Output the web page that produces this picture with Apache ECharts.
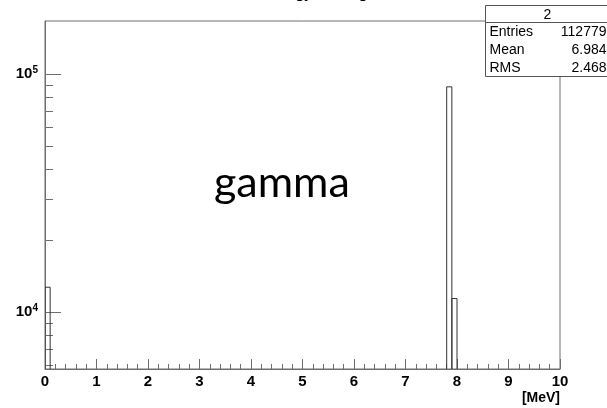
<!DOCTYPE html>
<html>
<head>
<meta charset="utf-8">
<script src="https://cdn.jsdelivr.net/npm/echarts@6/dist/echarts.min.js"></script>
<style>
  html, body { margin: 0; padding: 0; background: #fff; }
  #chart { width: 607px; height: 408px; }
</style>
</head>
<body>
<div id="chart"></div>
<script>
// Histogram "2": photon energy deposit, 0.1 MeV bins; only bins above the
// display floor are listed, all others are empty.
const binWidth = 0.1;
const binStart = [0.0, 7.8, 7.9];
const binCount = [12750, 88600, 11429];

// Statistics box
const statTitle = '2';
const statNames = ['Entries', 'Mean', 'RMS'];
const statValues = ['112779', '6.984', '2.468'];

// Axis settings
const xTickValues = [0, 1, 2, 3, 4, 5, 6, 7, 8, 9, 10];
const yMajorTicks = [10000, 100000];
const yMinorTicks = [6000, 7000, 8000, 9000, 20000, 30000, 40000, 50000, 60000, 70000, 80000, 90000];
const yRange = [5780, 167500];

const histTitle = 'Energy of all gamma';
const particleLabel = 'gamma';

const frameColor = '#6e6e6e';
const lineColor = '#333';
const labelFont = 'Liberation Sans, Arial, sans-serif';

const chart = echarts.init(document.getElementById('chart'), null, { renderer: 'canvas' });

const histData = binStart.map((s, i) => [s, s + binWidth, binCount[i]]);

chart.setOption({
  animation: false,
  backgroundColor: '#fff',
  grid: {
    left: 45, right: 47, top: 21, bottom: 39,
    show: true, borderColor: frameColor, borderWidth: 1, backgroundColor: 'transparent'
  },
  xAxis: {
    type: 'value',
    min: xTickValues[0],
    max: xTickValues[xTickValues.length - 1],
    interval: 1,
    name: '[MeV]',
    nameLocation: 'end',
    nameGap: 0,
    nameTextStyle: {
      fontFamily: labelFont, fontSize: 14, fontWeight: 'bold', color: '#000',
      align: 'right', verticalAlign: 'top', padding: [22, 0, 0, 0]
    },
    axisLine: { show: true, lineStyle: { color: frameColor, width: 1 } },
    axisTick: { show: true, inside: true, length: 10, lineStyle: { color: frameColor } },
    minorTick: { show: true, splitNumber: 5, length: 5, lineStyle: { color: frameColor } },
    splitLine: { show: false },
    minorSplitLine: { show: false },
    axisLabel: {
      margin: 5, fontFamily: labelFont, fontSize: 15, fontWeight: 'bold', color: '#000'
    }
  },
  yAxis: [
    {
      type: 'log',
      logBase: 10,
      min: yRange[0],
      max: yRange[1],
      axisLine: { show: true, lineStyle: { color: frameColor, width: 1 } },
      axisTick: {
        show: true, inside: true, length: 16, customValues: yMajorTicks,
        lineStyle: { color: frameColor }
      },
      splitLine: { show: false },
      axisLabel: {
        margin: 7,
        customValues: yMajorTicks,
        formatter: v => '{b|10}{s|' + Math.round(Math.log10(v)) + '}',
        rich: {
          b: { fontFamily: labelFont, fontSize: 15, fontWeight: 'bold', color: '#000' },
          s: { fontFamily: labelFont, fontSize: 10, fontWeight: 'bold', color: '#000', padding: [0, 0, 9, 0] }
        }
      }
    },
    {
      type: 'log',
      logBase: 10,
      min: yRange[0],
      max: yRange[1],
      position: 'left',
      offset: 0,
      axisLine: { show: false },
      axisTick: {
        show: true, inside: true, length: 8, customValues: yMinorTicks,
        lineStyle: { color: frameColor }
      },
      axisLabel: { show: false },
      splitLine: { show: false }
    }
  ],
  series: [
    {
      type: 'custom',
      xAxisIndex: 0,
      yAxisIndex: 0,
      clip: true,
      data: histData,
      encode: { x: [0, 1], y: 2 },
      renderItem: (params, api) => {
        const cs = params.coordSys;
        const bottom = cs.y + cs.height;
        const x0 = api.coord([api.value(0), yRange[0]])[0];
        const x1 = api.coord([api.value(1), yRange[0]])[0];
        const top = Math.max(api.coord([api.value(0), api.value(2)])[1], cs.y);
        return {
          type: 'polyline',
          shape: { points: [[x0, bottom], [x0, top], [x1, top], [x1, bottom]] },
          style: { fill: null, stroke: lineColor, lineWidth: 1 }
        };
      }
    }
  ],
  graphic: [
    {
      // histogram title, mostly above the canvas edge
      type: 'text',
      x: 259,
      y: -7,
      style: { text: histTitle, font: '17px ' + labelFont, fill: '#000', align: 'left', verticalAlign: 'middle' }
    },
    {
      type: 'group',
      left: 483,
      top: 5,
      children: [
        { type: 'rect', shape: { x: 0, y: 0, width: 123, height: 71 },
          style: { fill: '#fff', stroke: '#555', lineWidth: 1 } },
        { type: 'line', shape: { x1: 0, y1: 17, x2: 123, y2: 17 },
          style: { stroke: '#555', lineWidth: 1 } },
        { type: 'text', x: 62, y: 10,
          style: { text: statTitle, font: '14px ' + labelFont, fill: '#000', align: 'center', verticalAlign: 'middle' } }
      ].concat(statNames.map((n, i) => ({
        type: 'text', x: 4, y: 27 + i * 18,
        style: { text: n, font: '14px ' + labelFont, fill: '#000', align: 'left', verticalAlign: 'middle' }
      }))).concat(statValues.map((v, i) => ({
        type: 'text', x: 121, y: 27 + i * 18,
        style: { text: v, font: '14px ' + labelFont, fill: '#000', align: 'right', verticalAlign: 'middle' }
      })))
    },
    {
      type: 'text',
      left: 214,
      top: 162,
      style: { text: particleLabel, font: '43px Lato, "Open Sans", sans-serif', fill: '#000' }
    }
  ]
});
</script>
</body>
</html>
